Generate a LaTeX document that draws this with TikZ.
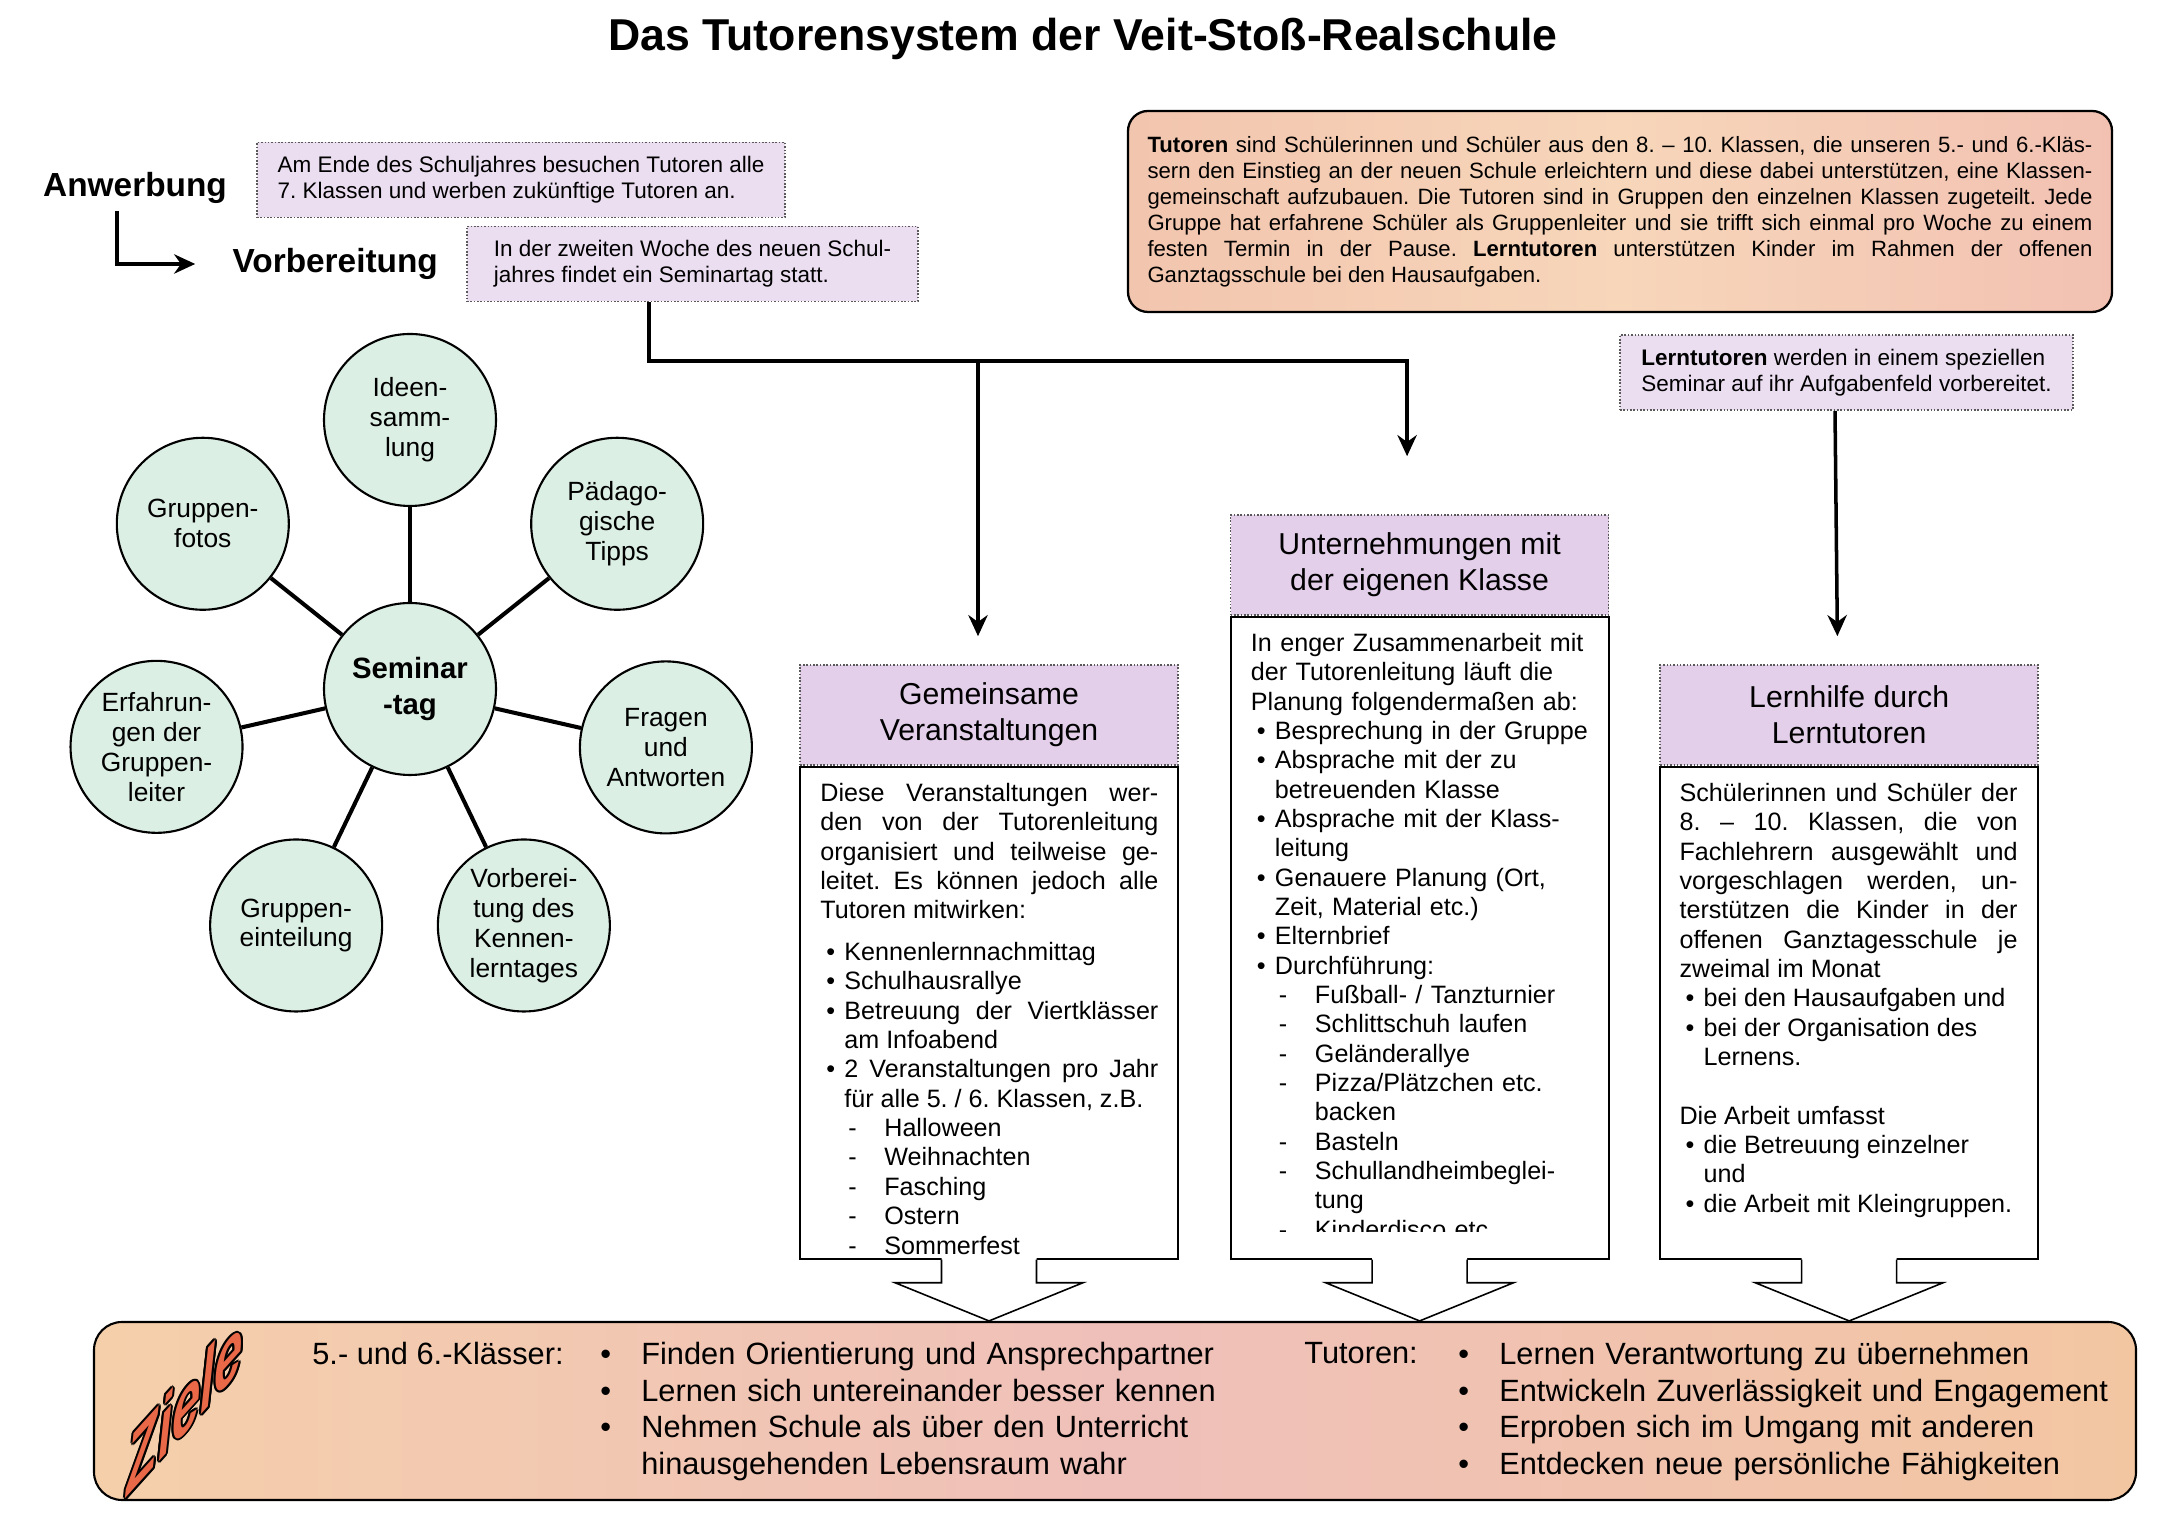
\documentclass[tikz,border=0pt]{standalone}
\usepackage{fontspec}
\setmainfont{Liberation Sans}
\usetikzlibrary{positioning,calc,arrows.meta}

\definecolor{lavlight}{RGB}{236,222,241}
\definecolor{lavhead}{RGB}{228,207,235}
\definecolor{mint}{RGB}{220,239,228}
\definecolor{tutleft}{RGB}{242,197,174}
\definecolor{tutmid}{RGB}{247,214,186}
\definecolor{tutright}{RGB}{242,193,178}
\definecolor{goalleft}{RGB}{245,207,170}
\definecolor{goalmid}{RGB}{239,192,186}
\definecolor{goalright}{RGB}{243,198,162}
\definecolor{coral}{RGB}{232,104,72}

\setlength{\parindent}{0pt}
\tolerance=9999 \hbadness=10000
\frenchspacing

% list lines inside the boxes
\newcommand{\bitem}[1]{\par\hangindent=0.48cm\hangafter=1\noindent\hbox to 0.48cm{\hspace{0.12cm}\textbullet\hfil}#1}
\newcommand{\ditem}[1]{\par\hangindent=1.28cm\hangafter=1\noindent\hbox to 1.28cm{\hspace{0.56cm}-\hfil}#1}
\newcommand{\zbul}{\hbox to 0.82cm{\textbullet\hfil}}

\begin{document}
\begin{tikzpicture}[
      smallbox/.style={draw=black!65, densely dotted, line width=0.9pt, fill=lavlight,
                       minimum height=1.5cm, align=left, inner xsep=0.4cm,
                       font=\fontsize{12.8}{14.8}\selectfont},
      lbl/.style={inner sep=0pt, font=\fontsize{19}{22}\selectfont\bfseries},
      infobox/.style={draw, line width=1.3pt, rounded corners=0.4cm,
                      left color=tutleft, right color=tutright, middle color=tutmid,
                      text width=18.9cm, inner xsep=0.39cm, minimum height=4.02cm,
                      align=justify, font=\fontsize{12.6}{14.8}\selectfont},
      hdr/.style={draw=black!65, densely dotted, line width=0.9pt, fill=lavhead,
                  minimum width=7.56cm, minimum height=2cm, align=center,
                  font=\fontsize{17.2}{20.5}\selectfont},
      bodybox/.style={draw, line width=1.1pt, fill=white, minimum width=7.56cm},
      bodytext/.style={inner sep=0pt, text width=6.76cm, font=\fontsize{14.3}{16.7}\selectfont},
      circ/.style={circle, draw, line width=1.2pt, fill=mint, minimum size=3.44cm,
                   inner sep=0pt, align=center, font=\fontsize{15}{17}\selectfont},
      spoke/.style={line width=2.3pt},
      arr/.style={-{Stealth[length=12pt,width=11pt]}, line width=2pt},
      blockarr/.style={line width=0.9pt, line join=miter},
      goalbox/.style={draw, line width=1.2pt, rounded corners=0.56cm,
                      left color=goalleft, right color=goalright, middle color=goalmid,
                      minimum width=40.84cm, minimum height=3.56cm},
      goaltext/.style={inner sep=0pt, anchor=north west, font=\fontsize{17.5}{21}\selectfont},
      ziele/.style={inner sep=0pt, xscale=0.63, yslant=0.7, transform shape,
                    font=\fontsize{46}{46}\selectfont\bfseries\itshape}
    ]
    \path[use as bounding box, fill=white] (0,0) rectangle (43.42,30.78);

    \node[font=\fontsize{25.4}{30}\selectfont\bfseries] (title) at (21.66,30.0)
         {Das Tutorensystem der Veit-Stoß-Realschule};

    % Anwerbung / Vorbereitung
    \node[smallbox, minimum width=10.56cm] (endbox) at (10.42,27.18)
         {Am Ende des Schuljahres besuchen Tutoren alle\\7. Klassen und werben zukünftige Tutoren an.};
    \node[lbl] (anw) [left=0.58cm of endbox, yshift=-0.16cm] {Anwerbung};
    \node[smallbox, minimum width=9.02cm] (wochebox) at (13.85,25.50)
         {In der zweiten Woche des neuen Schul-\\jahres findet ein Seminartag statt.};
    \node[lbl] (vorb) [left=0.56cm of wochebox] {Vorbereitung};
    \draw[arr, shorten >=0.74cm] ([xshift=-0.36cm,yshift=-0.14cm]anw.south) |- (vorb.west);

    \node[infobox] (tut) at (32.40,26.55)
         {\textbf{Tutoren} sind Schülerinnen und Schüler aus den 8. – 10. Klassen, die unseren 5.- und 6.-Kläs-\linebreak
          sern den Einstieg an der neuen Schule erleichtern und diese dabei unterstützen, eine Klassen-\linebreak
          gemeinschaft aufzubauen. Die Tutoren sind in Gruppen den einzelnen Klassen zugeteilt. Jede\linebreak
          Gruppe hat erfahrene Schüler als Gruppenleiter und sie trifft sich einmal pro Woche zu einem\linebreak
          festen Termin in der Pause. \textbf{Lerntutoren} unterstützen Kinder im Rahmen der offenen\linebreak
          Ganztagsschule bei den Hausaufgaben.};
    \node[smallbox, minimum width=9.06cm] (lernbox) at (36.93,23.33)
         {\textbf{Lerntutoren} werden in einem speziellen\\Seminar auf ihr Aufgabenfeld vorbereitet.};

    % Seminartag
    \node[circ, font=\fontsize{16.7}{20.5}\selectfont\bfseries] (hub) at (8.20,17.0) {Seminar\\-tag};
    \node[circ] (ideen)   at ($(hub)+(90:5.38)$)     {Ideen-\\samm-\\lung};
    \node[circ] (paed)    at ($(hub)+(38.57:5.3)$)   {Pädago-\\gische\\Tipps};
    \node[circ] (fragen)  at ($(hub)+(-12.86:5.25)$) {Fragen\\und\\Antworten};
    \node[circ] (vorbkl)  at ($(hub)+(-64.29:5.25)$) {Vorberei-\\tung des\\Kennen-\\lerntages};
    \node[circ] (einteil) at ($(hub)+(-115.71:5.25)$) {Gruppen-\\einteilung};
    \node[circ] (erfahr)  at ($(hub)+(-167.14:5.2)$) {Erfahrun-\\gen der\\Gruppen-\\leiter};
    \node[circ] (fotos)   at ($(hub)+(141.43:5.3)$)  {Gruppen-\\fotos};
    \draw[spoke] (hub) -- (ideen);
    \draw[spoke] (hub) -- (paed);
    \draw[spoke] (hub) -- (fragen);
    \draw[spoke] (hub) -- (vorbkl);
    \draw[spoke] (hub) -- (einteil);
    \draw[spoke] (hub) -- (erfahr);
    \draw[spoke] (hub) -- (fotos);

    % three columns
    \node[hdr] (hdr1) at (19.78,16.48) {Gemeinsame\\Veranstaltungen};
    \node[hdr] (hdr2) [right=1.02cm of hdr1, yshift=3cm] {Unternehmungen mit\\der eigenen Klasse};
    \node[hdr] (hdr3) [right=1.0cm of hdr2, yshift=-3cm] {Lernhilfe durch\\Lerntutoren};
    \node[bodybox, minimum height=9.84cm]  (body1) [below=0pt of hdr1] {};
    \node[bodybox, minimum height=12.84cm] (body2) [below=0pt of hdr2] {};
    \node[bodybox, minimum height=9.84cm]  (body3) [below=0pt of hdr3] {};

    \node[bodytext, align=justify] (txt1) [below right=0.34cm and 0.42cm of body1.north west]
         {Diese Veranstaltungen wer-\linebreak den von der Tutorenleitung\linebreak
          organisiert und teilweise ge-\linebreak leitet. Es können jedoch alle\linebreak
          Tutoren mitwirken:\par\vspace{0.25cm}
          \bitem{Kennenlernnachmittag}
          \bitem{Schulhausrallye}
          \bitem{Betreuung der Viertklässer\linebreak am Infoabend}
          \bitem{2 Veranstaltungen pro Jahr\linebreak für alle 5. / 6. Klassen, z.B.}
          \ditem{Halloween}
          \ditem{Weihnachten}
          \ditem{Fasching}
          \ditem{Ostern}
          \ditem{Sommerfest}\par};
    \begin{scope}
      \clip (body2.north west) rectangle ([yshift=0.56cm]body2.south east);
      \node[bodytext, text width=6.9cm, align=left] (txt2) [below right=0.34cm and 0.42cm of body2.north west]
           {In enger Zusammenarbeit mit\newline der Tutorenleitung läuft die\newline Planung folgendermaßen ab:
            \bitem{Besprechung in der Gruppe}
            \bitem{Absprache mit der zu\newline betreuenden Klasse}
            \bitem{Absprache mit der Klass-\newline leitung}
            \bitem{Genauere Planung (Ort,\newline Zeit, Material etc.)}
            \bitem{Elternbrief}
            \bitem{Durchführung:}
            \ditem{Fußball- / Tanzturnier}
            \ditem{Schlittschuh laufen}
            \ditem{Geländerallye}
            \ditem{Pizza/Plätzchen etc.\newline backen}
            \ditem{Basteln}
            \ditem{Schullandheimbeglei-\newline tung}
            \ditem{Kinderdisco etc.}\par};
    \end{scope}
    \node[bodytext, align=justify] (txt3) [below right=0.34cm and 0.40cm of body3.north west]
         {Schülerinnen und Schüler der\linebreak 8. – 10. Klassen, die von\linebreak
          Fachlehrern ausgewählt und\linebreak vorgeschlagen werden, un-\linebreak
          terstützen die Kinder in der\linebreak offenen Ganztagesschule je\linebreak
          zweimal im Monat
          \bitem{bei den Hausaufgaben und}
          \bitem{bei der Organisation des\newline Lernens.}
          \par\vspace{16.7pt}
          Die Arbeit umfasst
          \bitem{die Betreuung einzelner\newline und}
          \bitem{die Arbeit mit Kleingruppen.}\par};

    % arrows from the boxes
    \coordinate (fork)  at (12.98,23.56);
    \coordinate (fork1) at (19.56,23.56);
    \draw[arr, shorten >=1.16cm] (wochebox.south -| fork) -- (fork) -| ([xshift=-0.25cm]hdr2.north);
    \draw[arr, shorten >=0.56cm] (fork1) -- (fork1 |- hdr1.north);
    \draw[arr, shorten >=0.56cm] ([xshift=-0.23cm]lernbox.south) -- ([xshift=-0.23cm]hdr3.north);

    % Ziele
    \node[goalbox] (goals) at (22.30,2.56) {};
    \foreach \b in {body1,body2,body3} {
      \fill[white] ([xshift=-0.95cm,yshift=0.03cm]\b.south) -- ([xshift=-0.95cm,yshift=-0.46cm]\b.south)
        -- ([xshift=-1.88cm,yshift=-0.46cm]\b.south) -- (\b.south |- goals.north)
        -- ([xshift=1.88cm,yshift=-0.46cm]\b.south) -- ([xshift=0.95cm,yshift=-0.46cm]\b.south)
        -- ([xshift=0.95cm,yshift=0.03cm]\b.south) -- cycle;
      \draw[blockarr] ([xshift=-0.95cm]\b.south) -- ([xshift=-0.95cm,yshift=-0.46cm]\b.south)
        -- ([xshift=-1.88cm,yshift=-0.46cm]\b.south) -- (\b.south |- goals.north)
        -- ([xshift=1.88cm,yshift=-0.46cm]\b.south) -- ([xshift=0.95cm,yshift=-0.46cm]\b.south)
        -- ([xshift=0.95cm]\b.south);
    }

    \begin{scope}[shift={(3.70,2.70)}]
      \foreach \a in {0,30,...,330}
        \node[ziele, text=black] (zo\a) at (\a:0.04) {Ziele};
      \node[ziele, text=coral] (zl) at (0,0) {Ziele};
    \end{scope}

    \node[goaltext] (kl56) at (6.24,3.95) {5.- und 6.-Klässer:};
    \node[goaltext, text width=12.6cm, align=left] (kllist) at (12.00,3.95)
         {\zbul Finden Orientierung und Ansprechpartner\newline
          \zbul Lernen sich untereinander besser kennen\newline
          \zbul Nehmen Schule als über den Unterricht\newline
          \hspace*{0.82cm}hinausgehenden Lebensraum wahr};
    \node[goaltext] (tutlbl) at (26.08,3.95) {Tutoren:};
    \node[goaltext, text width=13.4cm, align=left] (tutlist) at (29.16,3.95)
         {\zbul Lernen Verantwortung zu übernehmen\newline
          \zbul Entwickeln Zuverlässigkeit und Engagement\newline
          \zbul Erproben sich im Umgang mit anderen\newline
          \zbul Entdecken neue persönliche Fähigkeiten};
  \end{tikzpicture}
\end{document}
